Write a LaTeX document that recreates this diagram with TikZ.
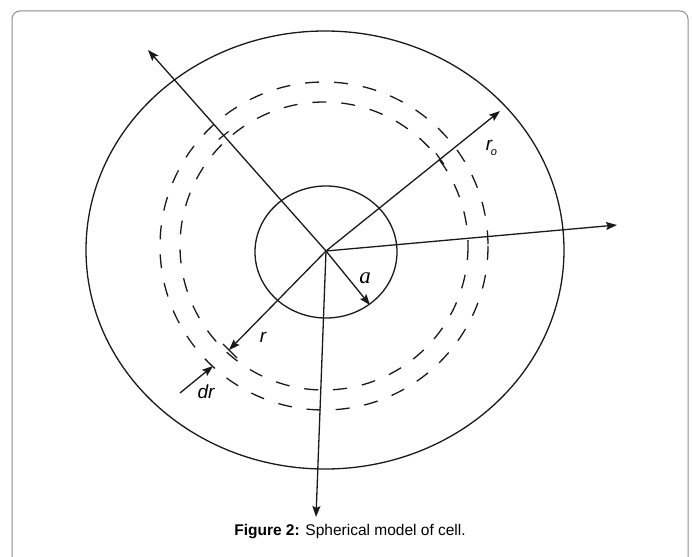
\documentclass[tikz,border=0pt]{standalone}
\usepackage{fontspec}
\setmainfont{Liberation Sans}
\newfontfamily\serifit{Liberation Serif}
\usetikzlibrary{arrows.meta,calc}
\tikzset{
  line/.style={line width=1.3pt, draw=black!90},
  arr/.style={line, -{Stealth[length=11pt,width=8pt,inset=2pt]}},
  dashcirc/.style={line width=1.3pt, draw=black!90, dash pattern=on 14pt off 15pt},
  tick/.style={line width=1.2pt, draw=black!90},
  lbl/.style={font=\fontsize{19}{19}\selectfont\itshape, inner sep=0pt, anchor=base},
  caption/.style={font=\fontsize{15.5}{16}\selectfont, inner sep=0pt, anchor=base}
}
\begin{document}
\begin{tikzpicture}[x=1pt,y=-1pt]
\useasboundingbox (0,0) rectangle (692,556);
\begin{scope}
\clip (0,0) rectangle (692,556);
\draw[draw=black!45, line width=1pt, rounded corners=8pt] (12,11) rectangle (688,580);
\end{scope}
% centre
\coordinate (O) at (326,251);
% circles
\draw[line] (325,250) ellipse [x radius=239, y radius=219];
\draw[line] (326,252) ellipse [x radius=71, y radius=66];
\draw[dashcirc] (324,246) circle [radius=164];
\draw[dashcirc] (324,246) circle [radius=144];
% arrow ends
\coordinate (UL) at (148,50);
\coordinate (UR) at (500,111);
\coordinate (R) at (617,225);
\coordinate (D) at (316,517);
\coordinate (RR) at (229,350);
\coordinate (A) at (370,305);
\coordinate (DRs) at (180,393);
\coordinate (DRe) at (213,366);
\draw[arr] (O) -- (UL);
\draw[arr] (O) -- (UR);
\draw[arr] (O) -- (R);
\draw[arr] (O) -- (D);
\draw[arr] (O) -- (RR);
\draw[arr] (O) -- (A);
\draw[arr] (DRs) -- (DRe);
% ticks
\coordinate (T1) at ($(O)!0.575!(UL)$);
\coordinate (T2) at ($(O)!0.655!(UR)$);
\draw[tick] (RR) ++(-6,-6) -- ++(14,14);
\draw[tick] (T1) ++(-5,4) -- ++(10,-8);
\draw[tick] (T2) ++(-4,-6) -- ++(8,11);
% labels
\node[lbl] (lr) at (263,342) {r};
\node[lbl] (ldr) at (206,398) {dr};
\node[lbl, font=\fontsize{23}{23}\selectfont\serifit\itshape] (la) at (365,283) {a};
\node[lbl] (lro) at (489,150) {r};
\node[lbl, font=\fontsize{11}{11}\selectfont\itshape] (lo) at (494,156) {o};
% caption
\node[caption] (cap) at (350,535) {\textbf{Figure 2:} Spherical model of cell.};
\end{tikzpicture}
\end{document}
